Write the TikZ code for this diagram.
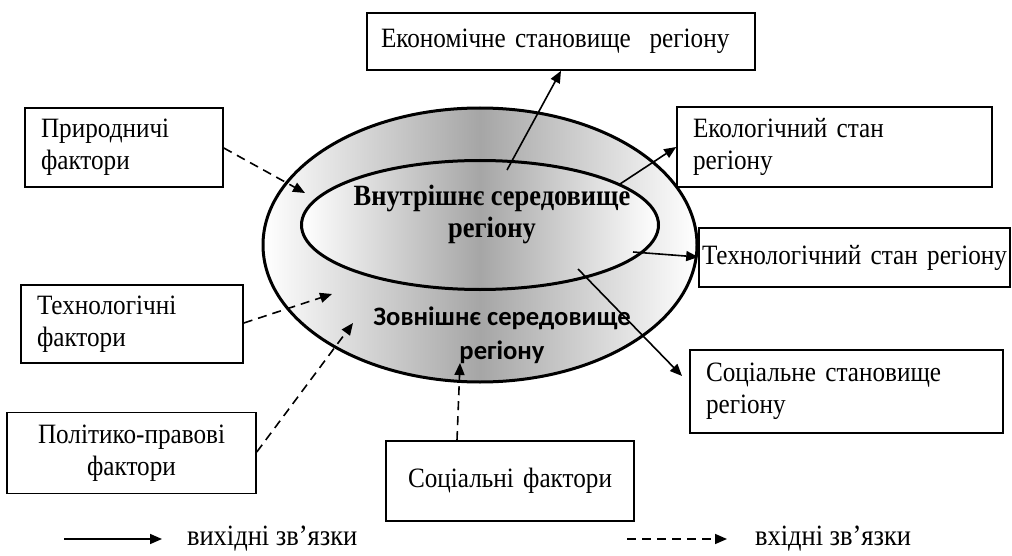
\documentclass[tikz,border=0pt]{standalone}
\usepackage{fontspec}
\setmainfont{Liberation Serif}[FakeStretch=0.9]
\newfontfamily\calibrifont{Carlito}
\usetikzlibrary{shapes.geometric,arrows.meta}

\begin{document}
\begin{tikzpicture}[x=0.5pt,y=-0.5pt,
  box/.style={draw,line width=0.8pt,inner xsep=8pt,inner ysep=0pt,align=left,font=\fontsize{14}{16}\selectfont},
  oval/.style={ellipse,draw,line width=1.5pt,left color=white,right color=white,middle color=black!35},
  outarrow/.style={-{Triangle[length=6pt,width=5pt]},line width=0.8pt},
  inarrow/.style={outarrow,dash pattern=on 4.5pt off 3pt}]
\useasboundingbox (0,0) rectangle (1012,556);

% environment of the region
\node[oval,minimum width=217pt,minimum height=137pt] (outer) at (480,245) {};
\node[oval,minimum width=178.5pt,minimum height=64.5pt] (inner) at (480,225) {};
\node[align=center,font=\fontsize{14.7}{16}\selectfont\bfseries] (innertext) at (492,214) {Внутрішнє середовище\\регіону};
\node[align=center,font=\fontsize{13.3}{17}\selectfont\calibrifont\bfseries] (outertext) at (502,335) {Зовнішнє середовище\\регіону};

% factors (left, bottom)
\node[box,text width=83pt,minimum height=39.5pt] (prir) at (124,147.5) {Природничі\\фактори};
\node[box,text width=95pt,minimum height=39pt] (tehf) at (132,324) {Технологічні\\фактори};
\node[box,inner xsep=2pt,text width=120.5pt,minimum height=40.5pt,align=center] (polit) at (131.5,453) {Політико-правові\\фактори};
\node[box,inner xsep=2pt,text width=120pt,minimum height=40pt,align=center] (socf) at (510,481) {Соціальні фактори};

% states (top, right)
\node[box,inner xsep=7pt,text width=180pt,minimum height=28.5pt] (econ) at (561,41.5) {Економічне становище\ \ регіону};
\node[box,text width=141.5pt,minimum height=40pt] (ekol) at (834.5,147) {Екологічний стан\\регіону};
\node[box,inner xsep=0pt,text width=155.5pt,minimum height=29.5pt,align=center] (tehs) at (854.5,257.5) {Технологічний стан регіону};
\node[box,text width=140.5pt,minimum height=41.5pt] (socs) at (846.5,391.5) {Соціальне становище\\регіону};

% outgoing links
\coordinate (o1) at (507,170);
\coordinate (o2) at (620,184);
\coordinate (o3) at (633,252);
\coordinate (o4) at (578,269);
\draw[outarrow] (o1) -- (econ.south -| 561,0);
\draw[outarrow] (o2) -- (ekol.west |- 0,147);
\draw[outarrow] (o3) -- (tehs.west |- 0,257);
\draw[outarrow] (o4) -- (682,376) coordinate (s4);

% incoming links
\coordinate (i1) at (305,193);
\coordinate (i2) at (332,294);
\coordinate (i3) at (353,323);
\coordinate (i4) at (460,363);
\draw[inarrow] (prir.east |- 0,148) -- (i1);
\draw[inarrow] (tehf.east |- 0,323) -- (i2);
\draw[inarrow] (polit.east |- 0,452) -- (i3);
\draw[inarrow] (socf.north -| 457,0) -- (i4);

% legend
\coordinate (l1) at (64,539);
\coordinate (l2) at (162,539);
\coordinate (l3) at (627,539);
\coordinate (l4) at (727,539);
\draw[outarrow] (l1) -- (l2);
\draw[inarrow] (l3) -- (l4);
\node[anchor=west,font=\fontsize{14.7}{16}\selectfont] (outlabel) at (180,539) {вихідні зв’язки};
\node[anchor=west,font=\fontsize{14.7}{16}\selectfont] (inlabel) at (748,539) {вхідні зв’язки};
\end{tikzpicture}
\end{document}
